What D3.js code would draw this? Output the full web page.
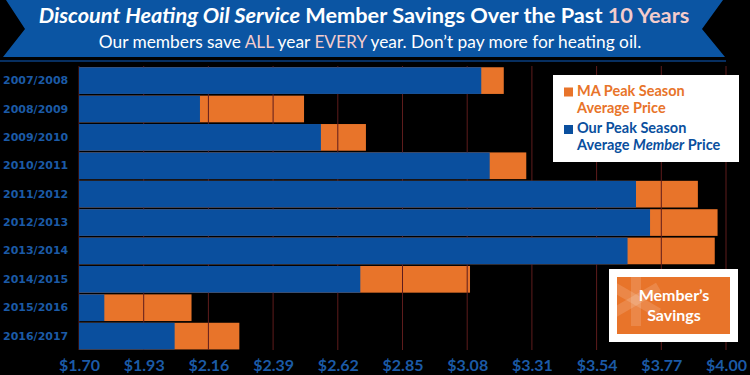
<!DOCTYPE html>
<html>
<head>
<meta charset="utf-8">
<script src="https://cdn.jsdelivr.net/npm/d3@7"></script>
<style>
  body { margin: 0; background: #000; }
  svg { display: block; }
</style>
</head>
<body>
<div id="chart"></div>
<script>
// --- Data ---
const seasons = ["2007/2008", "2008/2009", "2009/2010", "2010/2011", "2011/2012",
                 "2012/2013", "2013/2014", "2014/2015", "2015/2016", "2016/2017"];
const memberPrice = [3.13, 2.13, 2.56, 3.16, 3.68, 3.73, 3.65, 2.70, 1.79, 2.04];
const maPrice     = [3.21, 2.50, 2.72, 3.29, 3.90, 3.97, 3.96, 3.09, 2.10, 2.27];
const tickValues  = [1.70, 1.93, 2.16, 2.39, 2.62, 2.85, 3.08, 3.31, 3.54, 3.77, 4.00];

const data = seasons.map((s, i) => ({ season: s, member: memberPrice[i], ma: maPrice[i] }));

const width = 750, height = 375;
const blue = "#0a4f9e";
const orange = "#e8742a";
const labelBlue = "#1b5aa6";
const grid = "#5e1c1c";

const svg = d3.select("#chart").append("svg")
  .attr("width", width)
  .attr("height", height)
  .style("background", "#000");

// --- Scales ---
const x = d3.scaleLinear().domain([1.70, 4.00]).range([79, 726]);
const y = d3.scaleBand().domain(seasons).range([66.4, 350.3])
  .paddingInner(0.06).paddingOuter(0.03);

// --- Banner ---
svg.append("path")
  .attr("d", "M6,0 L723,0 L702,29 L725,57 L3,57 L25,29 Z")
  .attr("fill", "#0b55a3");
svg.append("line")
  .attr("x1", 0).attr("x2", 726).attr("y1", 61).attr("y2", 61)
  .attr("stroke", "#0a3f80").attr("stroke-width", 1.5);

function fitText(sel, target) {
  const w = sel.node().getComputedTextLength();
  const fs = parseFloat(sel.attr("font-size"));
  sel.attr("font-size", fs * target / w);
}

const title = svg.append("text")
  .attr("x", 364).attr("y", 23)
  .attr("text-anchor", "middle")
  .attr("font-family", "Lato, sans-serif")
  .attr("font-weight", "bold")
  .attr("font-size", 19)
  .attr("fill", "#fff");
title.append("tspan").attr("font-style", "italic").text("Discount Heating Oil Service");
title.append("tspan").text(" Member Savings Over the Past ");
title.append("tspan").attr("fill", "#f3cccc").text("10 Years");
fitText(title, 651);

const sub = svg.append("text")
  .attr("x", 370).attr("y", 47.5)
  .attr("text-anchor", "middle")
  .attr("font-family", "Lato, sans-serif")
  .attr("font-size", 16)
  .attr("fill", "#fff");
sub.append("tspan").text("Our members save ");
sub.append("tspan").attr("fill", "#f3cccc").text("ALL");
sub.append("tspan").text(" year ");
sub.append("tspan").attr("fill", "#f3cccc").text("EVERY");
sub.append("tspan").text(" year. Don\u2019t pay more for heating oil.");
fitText(sub, 543);

// --- Orange bars (MA price) ---
svg.selectAll(".ma")
  .data(data)
  .enter()
  .append("rect")
  .attr("class", "ma")
  .attr("x", x(1.70))
  .attr("y", d => y(d.season))
  .attr("width", d => x(d.ma) - x(1.70))
  .attr("height", y.bandwidth())
  .attr("fill", orange);

// --- Gridlines ---
svg.append("g")
  .selectAll("line")
  .data(tickValues)
  .enter()
  .append("line")
  .attr("x1", d => x(d)).attr("x2", d => x(d))
  .attr("y1", 66).attr("y2", 350)
  .attr("stroke", grid)
  .attr("stroke-width", 1);

// --- Blue bars (member price) ---
svg.selectAll(".member")
  .data(data)
  .enter()
  .append("rect")
  .attr("class", "member")
  .attr("x", x(1.70))
  .attr("y", d => y(d.season))
  .attr("width", d => x(d.member) - x(1.70))
  .attr("height", y.bandwidth())
  .attr("fill", blue);

// --- Axes ---
const xAxis = svg.append("g")
  .attr("transform", "translate(0,350)")
  .call(d3.axisBottom(x).tickValues(tickValues).tickFormat(d => "$" + d.toFixed(2)).tickSize(0).tickPadding(9.5));
xAxis.select(".domain").remove();
xAxis.selectAll("text")
  .attr("font-family", "Lato, sans-serif")
  .attr("font-weight", "bold")
  .attr("font-size", 16)
  .attr("fill", labelBlue);

const yAxis = svg.append("g")
  .call(d3.axisLeft(y).tickSize(0));
yAxis.select(".domain").remove();
yAxis.selectAll("text")
  .attr("x", 3)
  .attr("text-anchor", "start")
  .attr("font-family", "DejaVu Sans, sans-serif")
  .attr("font-weight", "bold")
  .attr("font-size", 11)
  .attr("fill", labelBlue);

// --- Legend ---
const legend = svg.append("g");
legend.append("rect")
  .attr("x", 553).attr("y", 75).attr("width", 186).attr("height", 87)
  .attr("fill", "#fff");
legend.append("rect").attr("x", 564).attr("y", 87.5).attr("width", 9).attr("height", 9).attr("fill", orange);
legend.append("rect").attr("x", 564).attr("y", 125).attr("width", 9).attr("height", 9).attr("fill", blue);

const legText = [
  { t: ["MA Peak Season"], y: 96, c: orange },
  { t: ["Average Price"], y: 112.7, c: orange },
  { t: ["Our Peak Season"], y: 133.3, c: blue },
  { t: ["Average ", "Member", " Price"], y: 150, c: blue }
];
legText.forEach(l => {
  const t = legend.append("text")
    .attr("x", 577).attr("y", l.y)
    .attr("font-family", "Lato, sans-serif")
    .attr("font-weight", "bold")
    .attr("font-size", 14.5)
    .attr("fill", l.c);
  l.t.forEach((s, i) => {
    t.append("tspan").attr("font-style", i === 1 ? "italic" : null).text(s);
  });
});

// --- Member's Savings badge ---
const badge = svg.append("g");
badge.append("rect")
  .attr("x", 609).attr("y", 269).attr("width", 129).attr("height", 73)
  .attr("fill", "#fff");
badge.append("rect")
  .attr("x", 617).attr("y", 277).attr("width", 113).attr("height", 57)
  .attr("fill", orange);
badge.append("clipPath").attr("id", "badgeClip")
  .append("rect").attr("x", 617).attr("y", 277).attr("width", 113).attr("height", 57);
const star = badge.append("g").attr("clip-path", "url(#badgeClip)")
  .append("g").attr("transform", "translate(636,300)");
[0, 60, 120].forEach(a => {
  star.append("rect")
    .attr("x", -5).attr("y", -26).attr("width", 10).attr("height", 52)
    .attr("transform", `rotate(${a})`)
    .attr("fill", "#fff").attr("opacity", 0.14);
});
badge.append("text")
  .attr("x", 674).attr("y", 301)
  .attr("text-anchor", "middle")
  .attr("font-family", "Lato, sans-serif").attr("font-weight", "bold")
  .attr("font-size", 16).attr("fill", "#fff")
  .text("Member\u2019s");
badge.append("text")
  .attr("x", 674).attr("y", 321)
  .attr("text-anchor", "middle")
  .attr("font-family", "Lato, sans-serif").attr("font-weight", "bold")
  .attr("font-size", 16).attr("fill", "#fff")
  .text("Savings");
</script>
</body>
</html>
